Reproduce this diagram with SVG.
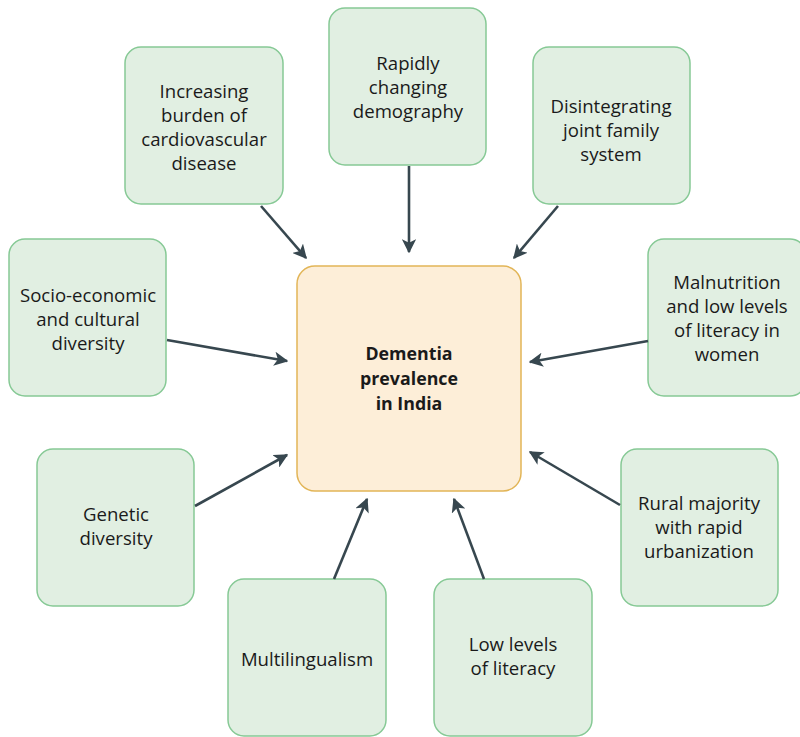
<svg xmlns="http://www.w3.org/2000/svg" width="800" height="737" viewBox="0 0 800 737">
<defs>
<style>
.n rect{fill:#e1efe2;stroke:#86c995;stroke-width:1.5}
.c rect{fill:#fdeed8;stroke:#e2b557;stroke-width:1.5}
text{font-family:"Open Sans","Liberation Sans",sans-serif;font-size:18.6px;fill:#1a1a1a;text-anchor:middle}
.c text{font-weight:bold;font-size:17.8px}
.e line{stroke:#37474f;stroke-width:2.6;marker-end:url(#ah)}
</style>
<marker id="ah" viewBox="0 0 10 10" refX="9" refY="5" markerWidth="5.5" markerHeight="5.5" orient="auto" markerUnits="strokeWidth">
<path d="M0,0 L10,5 L0,10 L2.5,5 Z" fill="#37474f"/>
</marker>
</defs>
<rect width="800" height="737" fill="#fff"/>
<g id="center" class="c">
<rect x="297" y="266" width="224" height="225" rx="18"/>
<text x="409" y="360">Dementia</text>
<text x="409" y="385">prevalence</text>
<text x="409" y="410">in India</text>
</g>
<g id="n1" class="n">
<rect x="125" y="47" width="158" height="157" rx="16"/>
<text x="204" y="98">Increasing</text>
<text x="204" y="122">burden of</text>
<text x="204" y="146">cardiovascular</text>
<text x="204" y="170">disease</text>
</g>
<g id="n2" class="n">
<rect x="329" y="8" width="157" height="157" rx="16"/>
<text x="408" y="70">Rapidly</text>
<text x="408" y="94">changing</text>
<text x="408" y="118">demography</text>
</g>
<g id="n3" class="n">
<rect x="533" y="47" width="157" height="157" rx="16"/>
<text x="611" y="113">Disintegrating</text>
<text x="611" y="137">joint family</text>
<text x="611" y="161">system</text>
</g>
<g id="n4" class="n">
<rect x="9" y="239" width="157" height="157" rx="16"/>
<text x="88" y="302">Socio-economic</text>
<text x="88" y="326">and cultural</text>
<text x="88" y="350">diversity</text>
</g>
<g id="n5" class="n">
<rect x="648" y="239" width="158" height="157" rx="16"/>
<text x="727" y="289">Malnutrition</text>
<text x="727" y="313">and low levels</text>
<text x="727" y="337">of literacy in</text>
<text x="727" y="361">women</text>
</g>
<g id="n6" class="n">
<rect x="37" y="449" width="157" height="157" rx="16"/>
<text x="116" y="521">Genetic</text>
<text x="116" y="545">diversity</text>
</g>
<g id="n7" class="n">
<rect x="621" y="449" width="157" height="157" rx="16"/>
<text x="699" y="510">Rural majority</text>
<text x="699" y="534">with rapid</text>
<text x="699" y="558">urbanization</text>
</g>
<g id="n8" class="n">
<rect x="228" y="579" width="158" height="157" rx="16"/>
<text x="307" y="666">Multilingualism</text>
</g>
<g id="n9" class="n">
<rect x="434" y="579" width="158" height="157" rx="16"/>
<text x="513" y="651">Low levels</text>
<text x="513" y="675">of literacy</text>
</g>
<g id="edges" class="e">
<line x1="261" y1="206" x2="306" y2="258"/>
<line x1="409" y1="166" x2="409" y2="252"/>
<line x1="558" y1="206" x2="514" y2="258"/>
<line x1="167" y1="340" x2="287" y2="361"/>
<line x1="648" y1="341" x2="530" y2="362"/>
<line x1="195" y1="506" x2="287" y2="455"/>
<line x1="620" y1="505" x2="530" y2="452"/>
<line x1="334" y1="579" x2="367" y2="499"/>
<line x1="484" y1="579" x2="454" y2="499"/>
</g>
</svg>
